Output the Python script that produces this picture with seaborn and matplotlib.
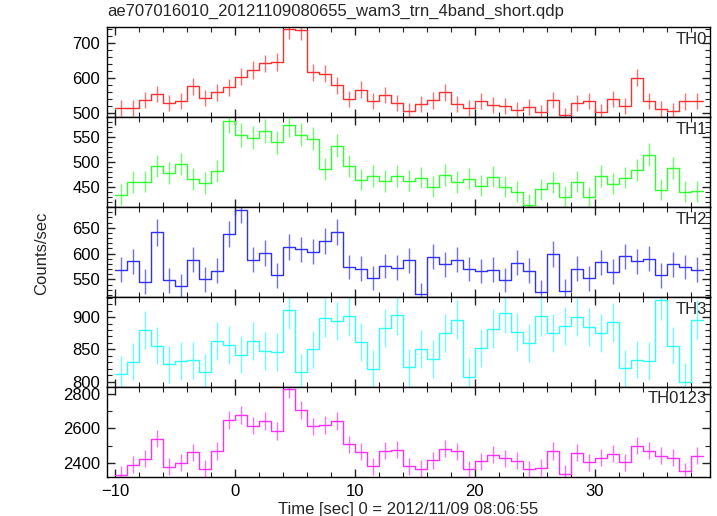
import numpy as np
import pandas as pd
import matplotlib
matplotlib.use("Agg")
import matplotlib.pyplot as plt
from matplotlib.ticker import MultipleLocator
import seaborn as sns

# 1-sec bins from -10 to 39 (bin edges)
edges = np.arange(-10, 40, 1.0)
centers = edges[:-1] + 0.5

th0 = [514, 513, 537, 553, 527, 533, 575, 541, 558, 573, 603, 622, 641, 644, 738, 736,
       615, 612, 578, 539, 566, 534, 550, 527, 505, 526, 535, 558, 524, 514, 533, 523,
       519, 509, 517, 501, 537, 492, 528, 533, 502, 540, 519, 600, 533, 511, 506, 532, 533]
th1 = [435, 460, 461, 492, 479, 497, 466, 458, 483, 583, 554, 549, 562, 540, 574, 555,
       547, 487, 533, 492, 465, 473, 462, 473, 463, 469, 451, 475, 460, 467, 453, 471,
       451, 441, 415, 446, 459, 431, 461, 430, 472, 457, 469, 485, 515, 445, 488, 441, 442]
th2 = [569, 585, 546, 641, 548, 538, 588, 550, 567, 638, 685, 588, 601, 558, 613, 608,
       604, 625, 642, 574, 571, 553, 576, 573, 587, 521, 594, 579, 588, 570, 566, 569,
       549, 582, 567, 526, 599, 528, 571, 552, 583, 565, 595, 585, 590, 558, 579, 574, 569]
th3 = [812, 831, 880, 856, 827, 832, 833, 815, 863, 857, 842, 863, 848, 846, 911, 815,
       850, 899, 894, 901, 862, 820, 883, 903, 822, 851, 835, 875, 896, 808, 852, 882,
       906, 877, 860, 901, 875, 886, 900, 885, 875, 892, 821, 834, 832, 926, 856, 800, 896]
th0123 = [2331, 2390, 2425, 2540, 2377, 2402, 2462, 2367, 2469, 2650, 2679, 2617, 2644, 2585, 2829, 2708,
          2612, 2621, 2644, 2508, 2465, 2379, 2471, 2477, 2381, 2367, 2415, 2483, 2467, 2362, 2408, 2446,
          2427, 2412, 2362, 2373, 2469, 2338, 2460, 2404, 2431, 2452, 2404, 2500, 2471, 2442, 2429, 2352, 2440]

bands = ["TH0", "TH1", "TH2", "TH3", "TH0123"]
series = [th0, th1, th2, th3, th0123]
colors = ["#ff3030", "#30ff30", "#3030ff", "#30ffff", "#ff30ff"]
ylims = [(487, 744), (410, 590), (516, 690), (792, 931), (2319, 2842)]
ymajor = [100, 50, 50, 50, 200]
yminor = [20, 10, 10, 10, 100]

sns.set_style("ticks")
plt.rcParams["font.family"] = ["Liberation Sans", "DejaVu Sans"]
fs = 12

fig, axes = plt.subplots(5, 1, figsize=(7.17, 5.16), dpi=100, sharex=True)
fig.subplots_adjust(left=0.149, right=0.990, top=0.947, bottom=0.076, hspace=0)

for ax, name, vals, c, yl, ma, mi in zip(axes, bands, series, colors, ylims, ymajor, yminor):
    vals = np.array(vals, dtype=float)
    # step line: value held from each left edge, last value repeated at the final edge
    df = pd.DataFrame({"time": edges, "rate": np.append(vals, vals[-1])})
    sns.lineplot(data=df, x="time", y="rate", drawstyle="steps-post", estimator=None,
                 color=c, lw=1.0, ax=ax)
    ax.errorbar(centers, vals, yerr=np.sqrt(vals), fmt="none", ecolor=c, elinewidth=1.0,
                alpha=0.7)
    ax.set_ylim(*yl)
    ax.set_xlim(-10.67, 39.6)
    ax.yaxis.set_major_locator(MultipleLocator(ma))
    ax.yaxis.set_minor_locator(MultipleLocator(mi))
    ax.xaxis.set_major_locator(MultipleLocator(10))
    ax.xaxis.set_minor_locator(MultipleLocator(2))
    ax.tick_params(which="both", direction="in", top=True, right=True, labelsize=fs,
                   color="#222222", labelcolor="black")
    ax.tick_params(which="major", length=6, width=1, pad=5)
    ax.tick_params(which="minor", length=3.5, width=0.8)
    for s in ax.spines.values():
        s.set_linewidth(1.0)
        s.set_color("black")
    ax.set_xlabel("")
    ax.set_ylabel("")
    ax.text(0.995, 0.95, name, transform=ax.transAxes, ha="right", va="top", fontsize=fs)

axes[-1].set_xlabel("Time [sec] 0 = 2012/11/09 08:06:55", fontsize=fs, labelpad=2)
fig.text(0.058, 0.51, "Counts/sec", rotation=90, ha="center", va="center", fontsize=fs)
fig.text(0.149, 0.977, "ae707016010_20121109080655_wam3_trn_4band_short.qdp",
         ha="left", va="center", fontsize=fs)

fig.savefig("out.png", dpi=100)
